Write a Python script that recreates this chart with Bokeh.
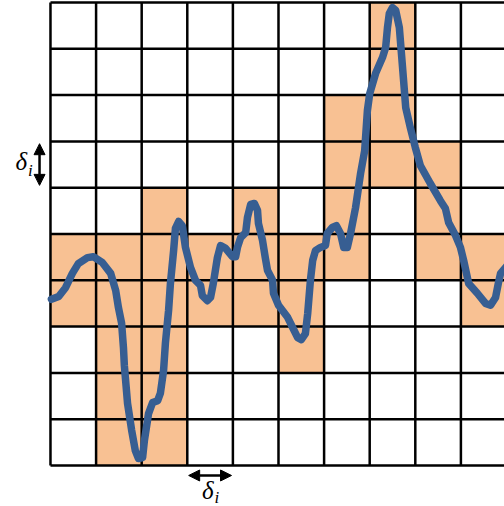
from bokeh.plotting import figure
from bokeh.models import Range1d, Arrow, NormalHead, Label
from bokeh.embed import file_html
from bokeh.resources import INLINE

# grid size (cells)
n_cols = 10
n_rows = 10

# highlighted cells (column index, row index with 0 = bottom row)
cell_col = [7, 7, 6, 7, 6, 7, 8, 2, 4, 6, 8,
            0, 1, 2, 3, 4, 5, 6, 8, 9,
            0, 1, 2, 3, 4, 5, 9, 1, 2, 5, 1, 2, 1, 2]
cell_row = [9, 8, 7, 7, 6, 6, 6, 5, 5, 5, 5,
            4, 4, 4, 4, 4, 4, 4, 4, 4,
            3, 3, 3, 3, 3, 3, 3, 2, 2, 2, 1, 1, 0, 0]

# signal (in cell units)
sig_x = [0.02, 0.18, 0.33, 0.48, 0.61, 0.81, 0.94, 1.14, 1.32, 1.43, 1.49, 1.56,
         1.60, 1.62, 1.69, 1.78, 1.86, 1.93, 2.02, 2.06, 2.15, 2.24, 2.35, 2.41,
         2.48, 2.52, 2.59, 2.63, 2.70, 2.74, 2.81, 2.89, 2.96, 3.07, 3.18, 3.29,
         3.33, 3.44, 3.51, 3.57, 3.66, 3.73, 3.84, 3.99, 4.06, 4.10, 4.17, 4.28,
         4.32, 4.39, 4.47, 4.54, 4.56, 4.65, 4.71, 4.76, 4.87, 4.89, 5.00, 5.20,
         5.31, 5.42, 5.50, 5.59, 5.64, 5.70, 5.75, 5.81, 5.92, 6.03, 6.07, 6.18,
         6.27, 6.36, 6.43, 6.51, 6.58, 6.69, 6.80, 6.89, 6.95, 7.00, 7.13, 7.28,
         7.35, 7.39, 7.43, 7.50, 7.57, 7.65, 7.72, 7.79, 7.89, 8.00, 8.11, 8.33,
         8.55, 8.66, 8.73, 8.88, 8.99, 9.06, 9.17, 9.36, 9.54, 9.65, 9.76, 9.82,
         9.87, 10.0]
sig_y = [3.59, 3.65, 3.84, 4.15, 4.36, 4.49, 4.51, 4.38, 4.15, 3.78, 3.41, 3.07,
         2.55, 2.16, 1.34, 0.76, 0.32, 0.15, 0.17, 0.54, 1.12, 1.36, 1.40, 1.56,
         2.05, 2.64, 3.35, 3.93, 4.64, 5.12, 5.27, 5.18, 4.71, 4.28, 4.00, 3.89,
         3.67, 3.56, 3.63, 3.93, 4.49, 4.75, 4.69, 4.51, 4.51, 4.71, 4.92, 5.03,
         5.36, 5.64, 5.66, 5.51, 5.23, 4.86, 4.49, 4.21, 4.00, 3.72, 3.46, 3.20,
         2.98, 2.76, 2.72, 2.85, 3.28, 4.00, 4.43, 4.64, 4.71, 4.75, 5.01, 5.14,
         5.18, 5.01, 4.71, 4.71, 5.01, 5.57, 6.31, 6.80, 7.67, 8.03, 8.47, 8.81,
         9.03, 9.46, 9.76, 9.89, 9.83, 9.46, 8.60, 7.73, 7.30, 6.87, 6.48, 6.09,
         5.72, 5.55, 5.25, 4.97, 4.71, 4.43, 3.93, 3.72, 3.50, 3.46, 3.63, 3.93,
         4.15, 4.30]

ORANGE = "#F8C193"
BLUE = "#375E92"

p = figure(width=504, height=506,
           x_range=Range1d(-1.096, 9.956), y_range=Range1d(-0.886, 10.043),
           output_backend="svg", toolbar_location=None, min_border=0)
p.axis.visible = False
p.grid.visible = False
p.outline_line_color = None
p.background_fill_color = "white"

# highlighted cells
p.quad(left=cell_col, right=[c + 1 for c in cell_col],
       bottom=cell_row, top=[r + 1 for r in cell_row],
       fill_color=ORANGE, line_color=None)

# grid lines
vx = [[i, i] for i in range(n_cols + 1)]
vy = [[0, n_rows] for i in range(n_cols + 1)]
hx = [[0, n_cols] for j in range(n_rows + 1)]
hy = [[j, j] for j in range(n_rows + 1)]
p.multi_line(vx + hx, vy + hy, line_color="black", line_width=2.5)

# signal
p.line(sig_x, sig_y, line_color=BLUE, line_width=7.5,
       line_join="round", line_cap="round")

# delta annotations
def head():
    return NormalHead(size=11, fill_color="black", line_color="black", line_width=1)

p.add_layout(Arrow(start=head(), end=head(), x_start=-0.24, y_start=6.05,
                   x_end=-0.24, y_end=6.95, line_width=2.5, line_color="black"))
p.add_layout(Arrow(start=head(), end=head(), x_start=3.03, y_start=-0.216,
                   x_end=3.97, y_end=-0.216, line_width=2.5, line_color="black"))

for (dx, dy, ix, iy) in [(-0.64, 6.56, -0.44, 6.38), (3.45, -0.54, 3.65, -0.70)]:
    p.add_layout(Label(x=dx, y=dy, text="δ", text_font="Liberation Serif",
                       text_font_style="italic", text_font_size="25px",
                       text_align="center", text_baseline="middle", text_color="black"))
    p.add_layout(Label(x=ix, y=iy, text="i", text_font="Liberation Serif",
                       text_font_style="italic", text_font_size="17px",
                       text_align="center", text_baseline="middle", text_color="black"))

open("out.html", "w").write(file_html(p, INLINE))
